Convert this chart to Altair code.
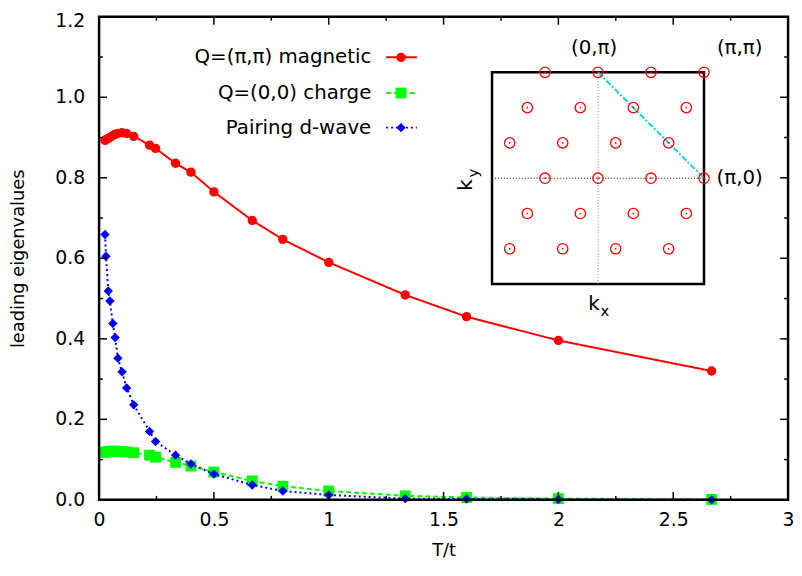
import altair as alt
import pandas as pd

# ---------------- data ----------------
T = [0.026, 0.03, 0.04, 0.047, 0.06, 0.07, 0.082, 0.1, 0.12, 0.151, 0.22, 0.246,
     0.333, 0.4, 0.5, 0.667, 0.8, 1.0, 1.333, 1.6, 2.0, 2.667]
magnetic = [0.893, 0.895, 0.898, 0.900, 0.905, 0.908, 0.910, 0.912, 0.910, 0.903, 0.881, 0.873,
            0.836, 0.814, 0.765, 0.694, 0.647, 0.590, 0.509, 0.455, 0.396, 0.320]
charge = [0.118, 0.119, 0.120, 0.120, 0.121, 0.121, 0.120, 0.120, 0.119, 0.117, 0.111, 0.106,
          0.093, 0.084, 0.069, 0.047, 0.034, 0.022, 0.010, 0.006, 0.003, 0.001]
pairing = [0.659, 0.605, 0.519, 0.494, 0.438, 0.403, 0.352, 0.318, 0.278, 0.236, 0.170, 0.145,
           0.111, 0.089, 0.064, 0.037, 0.022, 0.012, 0.003, 0.002, 0.001, 0.0]

series_names = ["Q=(\u03c0,\u03c0) magnetic", "Q=(0,0) charge", "Pairing d-wave"]
series_colors = ["#ff0000", "#00ff00", "#0000ff"]

x_major = [0, 0.5, 1, 1.5, 2, 2.5, 3]
x_minor = [0.25, 0.75, 1.25, 1.75, 2.25, 2.75]
y_major = [0, 0.2, 0.4, 0.6, 0.8, 1.0, 1.2]
y_minor = [0.1, 0.3, 0.5, 0.7, 0.9, 1.1]

# inset: k-points in units of pi
k_x = [-0.5, 0, 0.5, 1,
       -2/3, -1/6, 1/3, 5/6,
       -5/6, -1/3, 1/6, 2/3,
       -0.5, 0, 0.5, 1,
       -2/3, -1/6, 1/3, 5/6,
       -5/6, -1/3, 1/6, 2/3]
k_y = [1, 1, 1, 1,
       2/3, 2/3, 2/3, 2/3,
       1/3, 1/3, 1/3, 1/3,
       0, 0, 0, 0,
       -1/3, -1/3, -1/3, -1/3,
       -2/3, -2/3, -2/3, -2/3]
zone = [-1, 1]
inset_labels = ["(0,\u03c0)", "(\u03c0,\u03c0)", "(\u03c0,0)"]
inset_label_kx = [0, 1, 1]
inset_label_ky = [1, 1, 0]

# ---------------- layout ----------------
W, H = 696, 488
FONT = "DejaVu Sans"
# where the inset's Brillouin zone sits, in the main chart's data units
INSET_T = [1.711, 2.634]
INSET_V = [0.536, 1.062]

xs = alt.Scale(domain=[0, 3], nice=False, zero=False)
ys = alt.Scale(domain=[0, 1.2], nice=False, zero=False)

X_AXIS = alt.Axis(values=x_major, format="~g", ticks=False, domain=False, grid=False,
                  labelFontSize=19, labelPadding=11, titleFontSize=18,
                  titleFontWeight="normal", titleY=51, titleBaseline="middle",
                  labelFont=FONT, titleFont=FONT,
                  labelColor="black", titleColor="black", labelFlush=False)
Y_AXIS = alt.Axis(values=y_major, labels=False, ticks=False, domain=False, grid=False,
                  titleFontSize=18, titleFontWeight="normal", titleX=-81, titleY=H / 2,
                  titleBaseline="middle", titleAlign="center", titleAngle=270,
                  titleFont=FONT, titleColor="black")


def X(field):
    return alt.X(field, type="quantitative", scale=xs, axis=X_AXIS, title="T/t")


def Y(field):
    return alt.Y(field, type="quantitative", scale=ys, axis=Y_AXIS, title="leading eigenvalues")


df = pd.DataFrame({"T": T, "mag": magnetic, "chg": charge, "pair": pairing})


def series(col, color, shape, size, dash):
    base = alt.Chart(df)
    line = base.mark_line(color=color, strokeWidth=2, strokeDash=dash).encode(x=X("T"), y=Y(col))
    pts = base.mark_point(color=color, shape=shape, size=size, filled=True, opacity=1).encode(
        x=X("T"), y=Y(col))
    return [line, pts]


def xticks(vals, length):
    d = alt.Chart(pd.DataFrame({"v": vals}))
    b = d.mark_rule(color="black", strokeWidth=1.5).encode(
        x=X("v"), y=alt.value(H), y2=alt.value(H - length))
    t = d.mark_rule(color="black", strokeWidth=1.5).encode(
        x=X("v"), y=alt.value(0), y2=alt.value(length))
    return [b, t]


def yticks(vals, length):
    d = alt.Chart(pd.DataFrame({"v": vals}))
    l = d.mark_rule(color="black", strokeWidth=1.5).encode(
        y=Y("v"), x=alt.value(0), x2=alt.value(length))
    r = d.mark_rule(color="black", strokeWidth=1.5).encode(
        y=Y("v"), x=alt.value(W), x2=alt.value(W - length))
    return [l, r]


# y tick labels (the top one nudged down to stay inside the page, as in the original)
ylab_df = pd.DataFrame({"v": y_major, "t": [f"{v:.1f}" for v in y_major]})
ylabels = alt.Chart(ylab_df).transform_filter("datum.v < 1.1").mark_text(
    align="right", baseline="middle", font=FONT, fontSize=19, color="black", dx=-14).encode(
    y=Y("v"), x=alt.value(0), text="t:N")
ylabel_top = alt.Chart(ylab_df).transform_filter("datum.v > 1.1").mark_text(
    align="right", baseline="middle", font=FONT, fontSize=19, color="black", dx=-14, dy=4).encode(
    y=Y("v"), x=alt.value(0), text="t:N")

frame = alt.Chart(pd.DataFrame({"a": [0]})).mark_rect(
    fill=None, stroke="black", strokeWidth=2.5).encode(
    x=alt.value(0), x2=alt.value(W), y=alt.value(0), y2=alt.value(H))

# legend (top right, labels left of the samples)
legend_layers = []
leg_y = [41, 77, 112]
leg_dash = [[1, 0], [5, 3], [2, 3]]
leg_shape = ["circle", "square", "diamond"]
leg_size = [90, 120, 90]
one = pd.DataFrame({"a": [0]})
for name, col, yy, dsh, shp, sz in zip(series_names, series_colors, leg_y, leg_dash, leg_shape, leg_size):
    legend_layers.append(alt.Chart(one).mark_text(align="right", baseline="middle", font=FONT,
                                                  fontSize=20, color="black", text=name).encode(
        x=alt.value(275), y=alt.value(yy)))
    legend_layers.append(alt.Chart(one).mark_rule(color=col, strokeWidth=2, strokeDash=dsh).encode(
        x=alt.value(290), x2=alt.value(321), y=alt.value(yy)))
    legend_layers.append(alt.Chart(one).mark_point(color=col, shape=shp, size=sz, filled=True,
                                                   opacity=1).encode(
        x=alt.value(305), y=alt.value(yy)))


# ---------------- inset (k-space mapped into the inset box) ----------------
def kmap(ch):
    return ch.transform_calculate(
        px=f"{INSET_T[0]} + (datum.kx + 1) / 2 * ({INSET_T[1]} - {INSET_T[0]})",
        py=f"{INSET_V[0]} + (datum.ky + 1) / 2 * ({INSET_V[1]} - {INSET_V[0]})",
    )


kdf = pd.DataFrame({"kx": k_x, "ky": k_y})
box = kmap(alt.Chart(pd.DataFrame({"kx": [zone[0]], "ky": [zone[0]], "kx2": [zone[1]], "ky2": [zone[1]]})
                     )).transform_calculate(
    px2=f"{INSET_T[0]} + (datum.kx2 + 1) / 2 * ({INSET_T[1]} - {INSET_T[0]})",
    py2=f"{INSET_V[0]} + (datum.ky2 + 1) / 2 * ({INSET_V[1]} - {INSET_V[0]})",
).mark_rect(fill=None, stroke="black", strokeWidth=2.5).encode(
    x=X("px"), x2="px2:Q", y=Y("py"), y2="py2:Q")
hline = kmap(alt.Chart(pd.DataFrame({"kx": zone, "ky": [0, 0]}))).mark_line(
    color="black", strokeWidth=1, strokeDash=[1, 2]).encode(x=X("px"), y=Y("py"))
vline = kmap(alt.Chart(pd.DataFrame({"kx": [0, 0], "ky": zone}))).mark_line(
    color="#888888", strokeWidth=1, strokeDash=[1, 2]).encode(x=X("px"), y=Y("py"), order="ky:Q")
diag = kmap(alt.Chart(pd.DataFrame({"kx": [0, 1], "ky": [1, 0]}))).mark_line(
    color="#00dcdc", strokeWidth=2, strokeDash=[6, 2, 2, 2]).encode(x=X("px"), y=Y("py"))
rings = kmap(alt.Chart(kdf)).mark_point(shape="circle", size=110, color="#ff0000", filled=False,
                                        strokeWidth=1.3, opacity=1).encode(x=X("px"), y=Y("py"))
dots = kmap(alt.Chart(kdf)).mark_circle(size=3, color="#ff0000", opacity=1).encode(
    x=X("px"), y=Y("py"))
ldf = pd.DataFrame({"t": inset_labels, "kx": inset_label_kx, "ky": inset_label_ky})
lab_dx = [-4, 36, 36]
lab_dy = [-24, -24, 0]
labs = []
for i in range(3):
    labs.append(kmap(alt.Chart(ldf.iloc[[i]])).mark_text(
        font=FONT, fontSize=20, color="black", align="center", baseline="middle",
        dx=lab_dx[i], dy=lab_dy[i]).encode(x=X("px"), y=Y("py"), text="t:N"))
kx_lab = alt.Chart(one).mark_text(font=FONT, fontSize=20, color="black", text="k",
                                  baseline="middle", align="center").encode(
    x=alt.value(500), y=alt.value(290))
kx_sub = alt.Chart(one).mark_text(font=FONT, fontSize=15, color="black", text="x",
                                  baseline="middle", align="center").encode(
    x=alt.value(511), y=alt.value(297))
ky_lab = alt.Chart(one).mark_text(font=FONT, fontSize=20, color="black", text="k", angle=270,
                                  baseline="middle", align="center").encode(
    x=alt.value(371), y=alt.value(170))
ky_sub = alt.Chart(one).mark_text(font=FONT, fontSize=15, color="black", text="y", angle=270,
                                  baseline="middle", align="center").encode(
    x=alt.value(378), y=alt.value(158))

layers = []
layers += series("mag", series_colors[0], "circle", 90, [1, 0])
layers += series("chg", series_colors[1], "square", 120, [5, 3])
layers += series("pair", series_colors[2], "diamond", 90, [2, 3])
layers += xticks(x_major, 8) + xticks(x_minor, 4) + yticks(y_major, 8) + yticks(y_minor, 4)
layers += [frame, ylabels, ylabel_top]
layers += legend_layers
layers += [box, hline, vline, diag, rings, dots] + labs + [kx_lab, kx_sub, ky_lab, ky_sub]

chart = alt.layer(*layers).properties(
    width=W, height=H,
    autosize=alt.AutoSizeParams(type="none"),
    padding={"left": 92, "top": 6, "right": 6, "bottom": 66},
).configure_view(stroke="black", strokeWidth=2.5).configure(background="white")

chart.save("out.html", embed_options={"renderer": "svg", "actions": False})
